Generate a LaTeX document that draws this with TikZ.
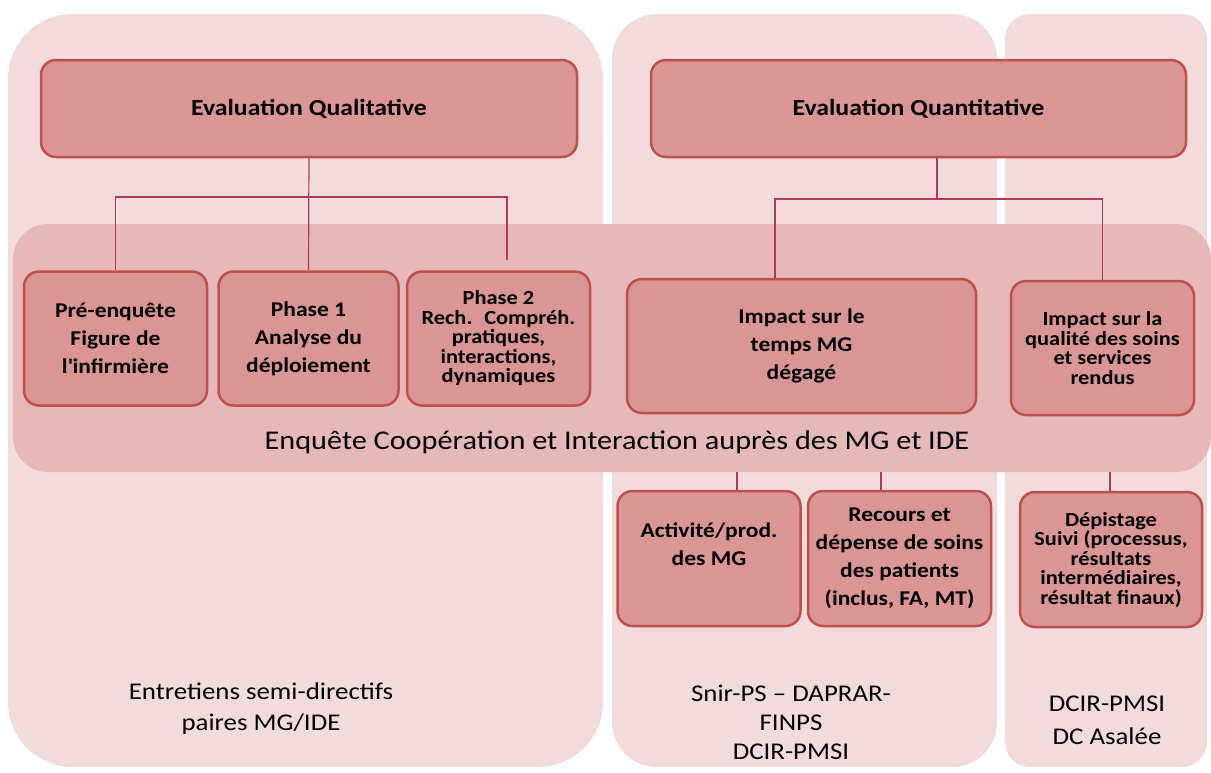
\documentclass[tikz,border=0pt]{standalone}
\usepackage{fontspec}
\setmainfont{Carlito}[FakeStretch=1.12]
\usetikzlibrary{positioning}
\definecolor{colfill}{HTML}{F2DCDB}
\definecolor{bandfill}{HTML}{E6B9B8}
\definecolor{boxfill}{HTML}{D99694}
\definecolor{boxline}{HTML}{C0504D}
\definecolor{linkred}{HTML}{B33A54}
\begin{document}
\begin{tikzpicture}[x=1pt,y=-1pt,
    topbox/.style={draw=boxline, fill=boxfill, line width=2.5pt, rounded corners=15pt,
      minimum width=535pt, minimum height=97pt, font=\bfseries\fontsize{23}{27}\selectfont},
    subbox/.style={draw=boxline, fill=boxfill, line width=2.5pt, rounded corners=15pt,
      minimum width=183pt, minimum height=134pt, align=center, inner sep=2pt,
      font=\bfseries\fontsize{21}{28}\selectfont},
    tightbox/.style={subbox, font=\bfseries\fontsize{20}{19.5}\selectfont},
    source/.style={align=center, font=\fontsize{24}{31}\selectfont},
    link/.style={draw=linkred, line width=1.2pt}]
  \useasboundingbox (0,0) rectangle (1211,772);
  % background columns and the survey band
  \fill[colfill, rounded corners=65pt] (8,14) rectangle (603,767);
  \fill[colfill, rounded corners=45pt] (612,14) rectangle (997,767);
  \fill[colfill, rounded corners=25pt] (1005,14) rectangle (1207,767);
  \fill[bandfill, rounded corners=35pt] (13,224) rectangle (1211,472);

  % qualitative side
  \node[topbox, minimum width=536pt] (qual) at (309,108.5) {Evaluation Qualitative};
  \node[subbox] (pre) at (115.5,338.5) {Pré-enquête\\Figure de\\l\textquotesingle infirmière};
  \node[subbox, minimum width=180pt, right=9pt of pre] (ph1) {Phase 1\\Analyse du\\déploiement};
  \node[tightbox, right=6pt of ph1] (ph2) {Phase 2\\Rech.~ Compréh.\\pratiques,\\interactions,\\dynamiques};

  % quantitative side
  \node[topbox] (quant) at (918.5,108.5) {Evaluation Quantitative};
  \node[subbox, minimum width=349pt] (temps) at (801.5,346) {Impact sur le\\temps MG\\dégagé};
  \node[tightbox] (qualite) at (1102.5,348) {Impact sur la\\qualité des soins\\et services\\rendus};
  \node[subbox, minimum height=135pt] (activ) at (709,558.5) {Activité/prod.\\des MG\\\mbox{}};
  \node[subbox, minimum height=135pt, right=5pt of activ] (recours) {Recours et\\dépense de soins\\des patients\\(inclus, FA, MT)};
  \node[tightbox, minimum width=182pt, minimum height=135pt] (depist) at (1111,559.5) {Dépistage\\Suivi (processus,\\résultats\\intermédiaires,\\résultat finaux)};

  % connectors
  \coordinate (qr) at (507,197);
  \coordinate (qrend) at (507,260);
  \draw[link] (qual.south) -- (ph1.north);
  \draw[link] (pre.north) |- (qr) -- (qrend);
  \coordinate (nj) at (937,199);
  \coordinate (nl) at (775,199);
  \draw[link] (quant.south -| nj) -- (nj);
  \draw[link] (temps.north -| nl) |- (qualite.north |- nj) -- (qualite.north);
  \coordinate (b1) at (737,472);
  \coordinate (b2) at (881,472);
  \coordinate (b3) at (1110,472);
  \draw[link] (b1) -- (b1 |- activ.north);
  \draw[link] (b2) -- (b2 |- recours.north);
  \draw[link] (b3) -- (b3 |- depist.north);

  % texts
  \node[font=\fontsize{27}{32}\selectfont] (enq) at (617,442) {Enquête Coopération et Interaction auprès des MG et IDE};
  \node[source] (entre) at (261,709) {Entretiens semi-directifs\\paires MG/IDE};
  \node[source, font=\fontsize{24}{29}\selectfont] (snir) at (791,722) {Snir-PS – DAPRAR-\\FINPS\\DCIR-PMSI};
  \node[source, font=\fontsize{24}{33}\selectfont] (dcir) at (1107,720) {DCIR-PMSI\\DC Asalée};
\end{tikzpicture}
\end{document}
